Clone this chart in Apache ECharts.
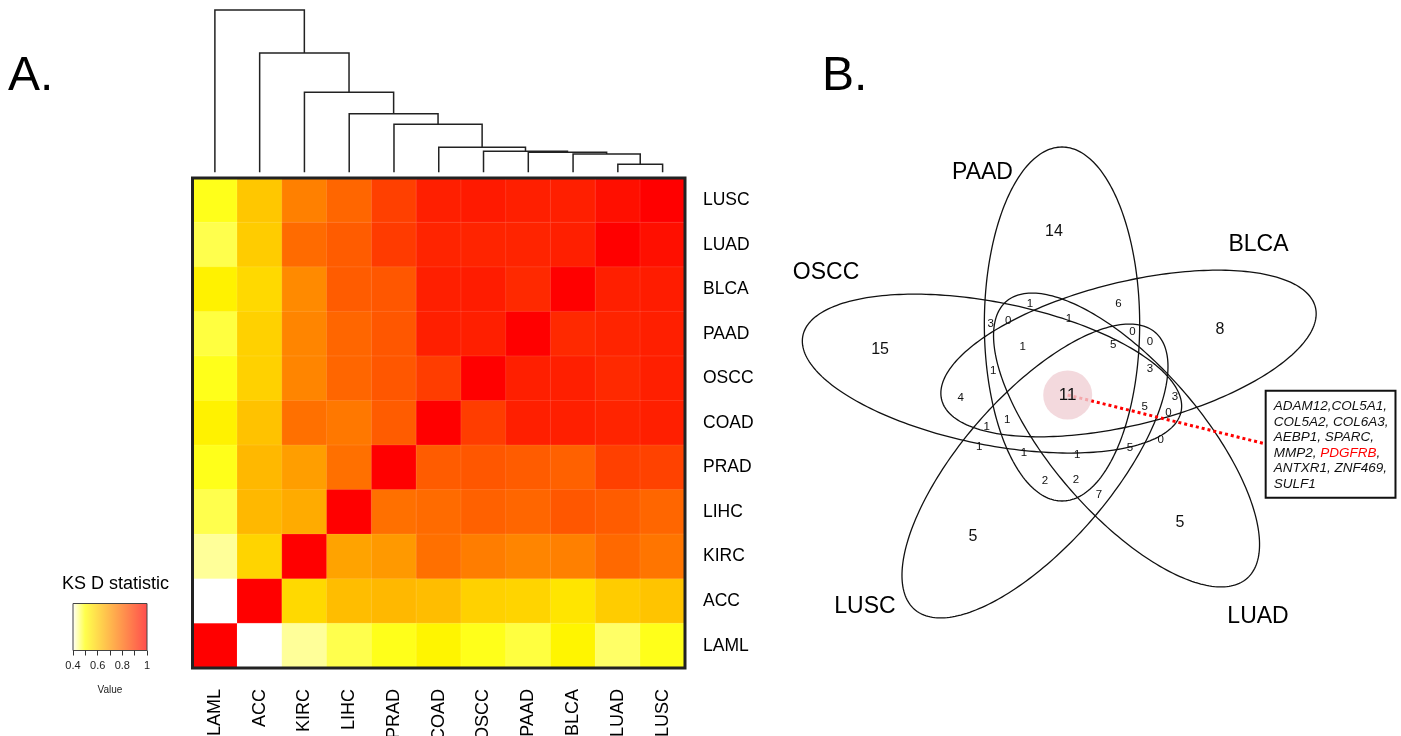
<!DOCTYPE html>
<html><head><meta charset="utf-8">
<script src="https://cdn.jsdelivr.net/npm/echarts@6/dist/echarts.min.js"></script>
<style>html,body{margin:0;padding:0;background:#fff}#c{width:1401px;height:736px}</style>
</head><body><div id="c"></div>
<script>
const FONT = '"Liberation Sans", Arial, Helvetica, sans-serif';

// ---------- Panel A: KS D statistic heatmap ----------
const cancerTypes = ['LAML','ACC','KIRC','LIHC','PRAD','COAD','OSCC','PAAD','BLCA','LUAD','LUSC'];
// rows as displayed top -> bottom, columns in cancerTypes order
const rowOrder = ['LUSC','LUAD','BLCA','PAAD','OSCC','COAD','PRAD','LIHC','KIRC','ACC','LAML'];
const ksLUSC = [0.49, 0.61, 0.75, 0.80, 0.875, 0.94, 0.95, 0.94, 0.94, 0.97, 1.00];
const ksLUAD = [0.47, 0.60, 0.79, 0.82, 0.885, 0.93, 0.93, 0.93, 0.94, 1.00, 0.97];
const ksBLCA = [0.525, 0.575, 0.73, 0.82, 0.83, 0.94, 0.945, 0.92, 1.00, 0.94, 0.945];
const ksPAAD = [0.475, 0.59, 0.74, 0.80, 0.83, 0.94, 0.94, 1.00, 0.92, 0.93, 0.94];
const ksOSCC = [0.49, 0.59, 0.74, 0.80, 0.83, 0.88, 1.00, 0.94, 0.94, 0.92, 0.94];
const ksCOAD = [0.525, 0.62, 0.78, 0.765, 0.82, 1.00, 0.88, 0.94, 0.94, 0.93, 0.94];
const ksPRAD = [0.49, 0.64, 0.69, 0.78, 1.00, 0.82, 0.83, 0.82, 0.81, 0.875, 0.87];
const ksLIHC = [0.47, 0.64, 0.665, 1.00, 0.78, 0.79, 0.81, 0.80, 0.83, 0.82, 0.80];
const ksKIRC = [0.44, 0.585, 1.00, 0.68, 0.70, 0.78, 0.755, 0.74, 0.75, 0.795, 0.77];
const ksACC  = [0.40, 1.00, 0.575, 0.63, 0.64, 0.63, 0.59, 0.585, 0.55, 0.60, 0.615];
const ksLAML = [1.00, 0.40, 0.44, 0.47, 0.49, 0.52, 0.49, 0.475, 0.52, 0.46, 0.49];
const ksRows = [ksLUSC, ksLUAD, ksBLCA, ksPAAD, ksOSCC, ksCOAD, ksPRAD, ksLIHC, ksKIRC, ksACC, ksLAML];

// dendrogram (column clustering): merge i joins left & right at height
const dendroLeft   = ['LUAD','BLCA','PAAD','OSCC','COAD','PRAD','LIHC','KIRC','ACC','LAML'];
const dendroRight  = ['LUSC','m0','m1','m2','m3','m4','m5','m6','m7','m8'];
const dendroHeight = [0.08, 0.183, 0.20, 0.21, 0.25, 0.48, 0.586, 0.80, 1.193, 1.623];

// colour legend
const legendTicks = [0.4, 0.5, 0.6, 0.7, 0.8, 0.9, 1.0];
const legendLabels = ['0.4', '', '0.6', '', '0.8', '', '1'];

// ---------- Panel B: five-set Venn ----------
const vennSets = ['PAAD','BLCA','LUAD','LUSC','OSCC'];
const vennCx  = [-5.5, 55.3, 53.5, -30.2, -69.5];
const vennCy  = [70, 40.5, -46, -77, 20.4];
const vennRot = [90, 15.6, -52.5, 52.5, -12.7];
const vennSemiMajor = [177, 177, 177, 177, 177];
const vennSemiMinor = [71, 71, 71, 71, 71];
const vennLabelX = [-78.2, 174.1, 173.7, -185.6, -221.2];
const vennLabelY = [221.5, 149, -223, -213, 121.5];

const outerCounts = ['14', '8', '5', '5', '15'];
const outerX = [-12.8, 138.9, 102.4, -86.8, -171.8];
const outerY = [162, 64, -129, -143, 44];

const innerCounts = ['1','6','3','0','1','0','0','1','5','1','3','4','3','5','0','1','1','0','1','1','1','5','2','2','7'];
const innerX = [-34.7, 46.0, -70.7, -54.6, 0.9, 58.8, 75.0, -41.4, 41.4, -68.3, 75.0, -98.1, 97.8, 70.1, 91.7, -74.3, -55.5, 84.7, -81.1, -40.2, 8.5, 56.7, -21.0, 7.3, 28.3];
const innerY = [90, 90, 70, 73.3, 75, 61.7, 52, 47.3, 48.7, 23.3, 24.7, -4, -2.7, -12.7, -18.7, -32.7, -26, -46, -52.7, -58.7, -60.7, -54.3, -86.7, -86, -101];

const coreCount = '11';
const coreX = -0.3, coreY = -1;
const calloutEnd = [178.4, -49.3];
const boxAnchor = [181.6, 2.3];
const coreGenes = ['ADAM12','COL5A1','COL5A2','COL6A3','AEBP1','SPARC','MMP2','PDGFRB','ANTXR1','ZNF469','SULF1'];
const highlightGene = 'PDGFRB';

// ---------- build ----------
const heatData = [];
ksRows.forEach((row, r) => {
  const yi = cancerTypes.indexOf(rowOrder[r]);
  row.forEach((v, c) => heatData.push([c, yi, v]));
});

const nodeX = {}, nodeH = {};
cancerTypes.forEach((n, i) => { nodeX[n] = i; nodeH[n] = 0; });
const dendroSegs = dendroLeft.map((l, i) => {
  const r = dendroRight[i];
  const seg = [nodeX[l], nodeH[l], nodeX[r], nodeH[r], dendroHeight[i]];
  nodeX['m' + i] = (nodeX[l] + nodeX[r]) / 2;
  nodeH['m' + i] = dendroHeight[i];
  return seg;
});

const ellipseData = vennSets.map((s, i) => [vennCx[i], vennCy[i], vennRot[i], vennSemiMajor[i], vennSemiMinor[i]]);

const g = coreGenes.map(x => x === highlightGene ? '{r|' + x + '}' : x);
const boxLines = [
  g[0] + ',' + g[1] + ',',
  g[2] + ', ' + g[3] + ',',
  g[4] + ', ' + g[5] + ',',
  g[6] + ', ' + g[7] + ',',
  g[8] + ', ' + g[9] + ',',
  g[10]
];

function textSeries(xs, ys, texts, fontSize, color, z) {
  return {
    type: 'custom', xAxisIndex: 2, yAxisIndex: 2, z: z, silent: true,
    data: xs.map((x, i) => [x, ys[i]]), encode: {x: 0, y: 1},
    renderItem: (params, api) => {
      const p = api.coord([api.value(0), api.value(1)]);
      return {type: 'text', x: p[0], y: p[1],
        style: {text: texts[params.dataIndex], fill: color, fontSize: fontSize, fontFamily: FONT,
          align: 'center', verticalAlign: 'middle'}};
    }
  };
}

const chart = echarts.init(document.getElementById('c'), null, {renderer: 'canvas'});

chart.setOption({
  animation: false,
  backgroundColor: '#ffffff',
  textStyle: {fontFamily: FONT},
  title: [
    {text: 'A.', left: 8, top: 53, padding: 0, textStyle: {fontSize: 48, fontWeight: 'normal', color: '#000', fontFamily: FONT}},
    {text: 'B.', left: 822, top: 53, padding: 0, textStyle: {fontSize: 48, fontWeight: 'normal', color: '#000', fontFamily: FONT}},
    {text: 'KS D statistic', left: 62, top: 575, padding: 0, textStyle: {fontSize: 18, fontWeight: 'normal', color: '#000', fontFamily: FONT}}
  ],
  grid: [
    {left: 192.5, top: 178, width: 492.5, height: 490, show: true, borderColor: '#222', borderWidth: 3, backgroundColor: 'transparent', z: 10, outerBoundsMode: 'none', containLabel: false},
    {left: 192.5, top: 10, width: 492.5, height: 162.3, outerBoundsMode: 'none'},
    {left: 783.6, top: 134, width: 612.6, height: 520, outerBoundsMode: 'none'},
    {left: 73, top: 603.5, width: 74, height: 47, show: true, borderColor: '#444', borderWidth: 1, outerBoundsMode: 'none',
     backgroundColor: new echarts.graphic.LinearGradient(0, 0, 1, 0, [
       {offset: 0, color: '#ffffff'}, {offset: 1/6, color: '#ffff4d'}, {offset: 1, color: '#ff4d4d'}])}
  ],
  xAxis: [
    {gridIndex: 0, type: 'category', data: cancerTypes, position: 'bottom',
     axisLine: {show: false}, axisTick: {show: false}, splitLine: {show: false},
     axisLabel: {rotate: 90, fontSize: 18, margin: 21, color: '#000', fontFamily: FONT}},
    {gridIndex: 1, type: 'value', min: -0.5, max: 10.5, show: false},
    {gridIndex: 2, type: 'value', min: -260, max: 300, show: false},
    {gridIndex: 3, type: 'value', min: 0.4, max: 1.0, interval: 0.1,
     axisLine: {show: false}, splitLine: {show: false},
     axisTick: {show: true, length: 5, lineStyle: {color: '#333'}},
     axisLabel: {fontSize: 11, margin: 10, color: '#222', fontFamily: FONT,
       formatter: v => { const k = legendTicks.findIndex(t => Math.abs(t - v) < 1e-6); return k >= 0 ? legendLabels[k] : ''; }},
     name: 'Value', nameLocation: 'middle', nameGap: 35, nameTextStyle: {fontSize: 10, color: '#222', fontFamily: FONT}}
  ],
  yAxis: [
    {gridIndex: 0, type: 'category', data: cancerTypes, position: 'right',
     axisLine: {show: false}, axisTick: {show: false}, splitLine: {show: false},
     axisLabel: {fontSize: 17.5, margin: 18, color: '#000', fontFamily: FONT}},
    {gridIndex: 1, type: 'value', min: 0, max: 1.623, show: false},
    {gridIndex: 2, type: 'value', min: -260, max: 260, show: false},
    {gridIndex: 3, type: 'value', min: 0, max: 1, show: false}
  ],
  visualMap: {type: 'continuous', show: false, seriesIndex: 0, dimension: 2, min: 0.4, max: 1.0,
    inRange: {color: ['#ffffff', '#ffff00', '#ffcc00', '#ff9900', '#ff6600', '#ff3300', '#ff0000']}},
  series: [
    {type: 'heatmap', xAxisIndex: 0, yAxisIndex: 0, data: heatData, progressive: 0,
     itemStyle: {borderColor: 'rgba(255,255,255,0.10)', borderWidth: 1},
     emphasis: {disabled: true}},
    {type: 'custom', xAxisIndex: 1, yAxisIndex: 1, data: dendroSegs, encode: {x: [0, 2], y: [1, 3, 4]}, silent: true,
     renderItem: (params, api) => {
       const xl = api.value(0), hl = api.value(1), xr = api.value(2), hr = api.value(3), h = api.value(4);
       return {type: 'polyline', shape: {points: [api.coord([xl, hl]), api.coord([xl, h]), api.coord([xr, h]), api.coord([xr, hr])]},
         style: {stroke: '#222', lineWidth: 1.5, fill: null}};
     }},
    {type: 'custom', xAxisIndex: 2, yAxisIndex: 2, data: ellipseData, z: 2, encode: {x: 0, y: 1}, silent: true,
     renderItem: (params, api) => {
       const cx = api.value(0), cy = api.value(1), rot = api.value(2) * Math.PI / 180, A = api.value(3), B = api.value(4);
       const pts = [];
       for (let k = 0; k <= 240; k++) {
         const t = k / 240 * 2 * Math.PI;
         const x = cx + A * Math.cos(t) * Math.cos(rot) - B * Math.sin(t) * Math.sin(rot);
         const y = cy + A * Math.cos(t) * Math.sin(rot) + B * Math.sin(t) * Math.cos(rot);
         pts.push(api.coord([x, y]));
       }
       return {type: 'polygon', shape: {points: pts}, style: {fill: 'none', stroke: '#111', lineWidth: 1.3}};
     }},
    {type: 'line', xAxisIndex: 2, yAxisIndex: 2, z: 3, symbol: 'none', silent: true,
     data: [[coreX, coreY], calloutEnd], lineStyle: {color: '#ff0000', width: 3, type: [3, 3]}},
    {type: 'scatter', xAxisIndex: 2, yAxisIndex: 2, z: 4, silent: true, symbolSize: 49,
     itemStyle: {color: '#f0d0d4'}, data: [[coreX, coreY]]},
    textSeries([coreX], [coreY], [coreCount], 17, '#111', 6),
    textSeries(outerX, outerY, outerCounts, 16, '#111', 6),
    textSeries(innerX, innerY, innerCounts, 11.5, '#111', 6),
    textSeries(vennLabelX, vennLabelY, vennSets, 23, '#000', 6),
    {type: 'custom', xAxisIndex: 2, yAxisIndex: 2, z: 7, silent: true,
     data: [boxAnchor], encode: {x: 0, y: 1},
     renderItem: (params, api) => {
       const p = api.coord([api.value(0), api.value(1)]);
       return {type: 'text', x: p[0], y: p[1],
         style: {text: boxLines.join('\n'), fill: '#111', fontStyle: 'italic', fontSize: 13.5, lineHeight: 15.5, fontFamily: FONT,
           align: 'left', verticalAlign: 'top', backgroundColor: '#ffffff', borderColor: '#111', borderWidth: 2,
           padding: [7, 6, 5, 7],
           rich: {r: {fill: '#ff0000', fontStyle: 'italic', fontSize: 13.5, lineHeight: 15.5, fontFamily: FONT}}}};
     }}
  ]
});
</script>
</body></html>
